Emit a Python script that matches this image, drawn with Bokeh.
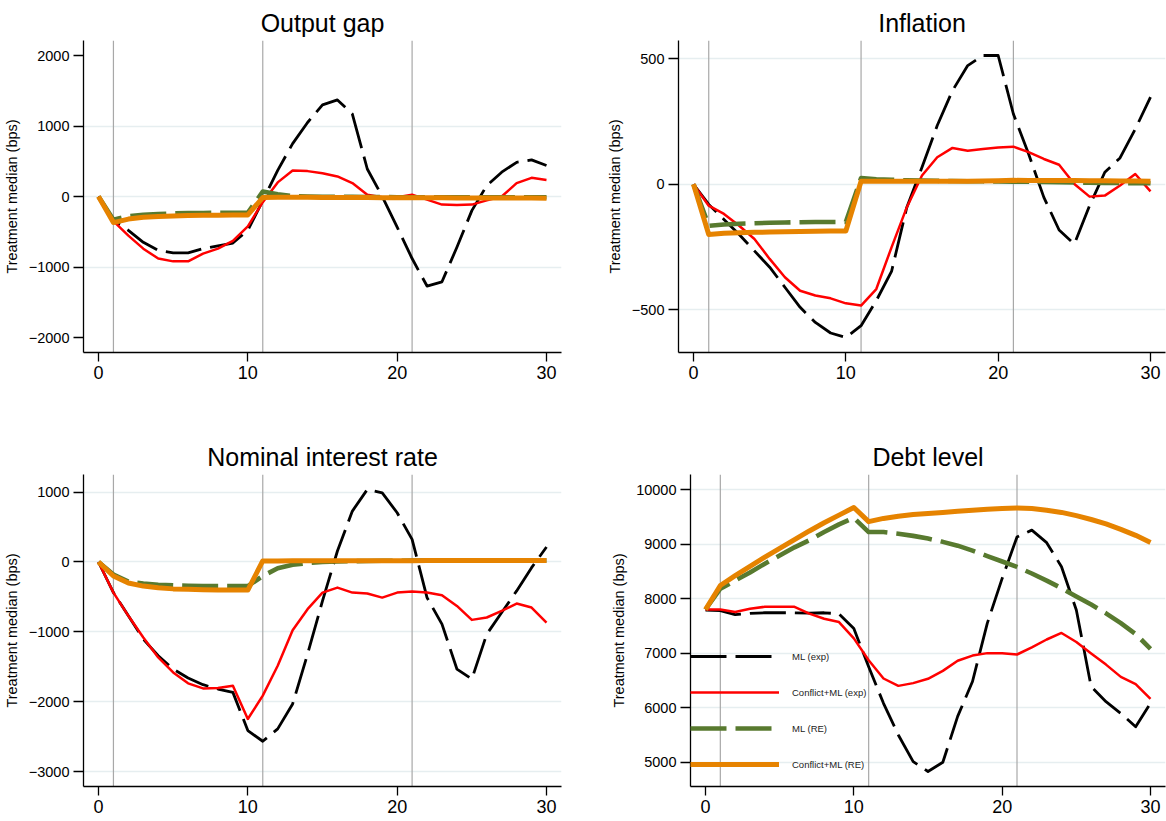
from bokeh.plotting import figure
from bokeh.models import Range1d, FixedTicker, Span, Legend, LegendItem
from bokeh.layouts import column, row
from bokeh.embed import file_html
from bokeh.resources import INLINE

# ---------------- data ----------------
t = list(range(31))
vlines = [1, 11, 21]
xticks = [0, 10, 20, 30]
series_names = ["ML (exp)", "Conflict+ML (exp)", "ML (RE)", "Conflict+ML (RE)"]

og_ml_exp = [0, -340, -480, -650, -765, -800, -800, -740, -700, -660, -480, -60, 370, 750, 1050,
             1300, 1370, 1170, 390, 0, -435, -880, -1270, -1210, -720, -200, 155, 345, 485, 520, 440]
og_conf_exp = [0, -350, -555, -740, -880, -920, -920, -810, -740, -630, -425, -80, 200, 370, 360,
               330, 285, 190, 25, -10, -10, 25, -45, -115, -120, -115, -55, 0, 190, 265, 235]
og_ml_re = [0, -330, -280, -258, -248, -240, -236, -234, -232, -230, -230, 70, 30, 5, 0,
            -5, -5, -5, -8, -8, -10, -10, -10, -10, -10, -10, -10, -10, -10, -10, -10]
og_conf_re = [0, -370, -320, -295, -283, -275, -270, -267, -265, -263, -262, -15, -12, -12, -12,
              -13, -14, -15, -15, -16, -17, -18, -19, -19, -20, -21, -21, -22, -22, -23, -24]

inf_ml_exp = [0, -80, -140, -200, -265, -330, -410, -490, -550, -592, -610, -563, -463, -347, -92,
              68, 234, 373, 473, 513, 513, 280, 121, -52, -182, -238, -85, 48, 105, 220, 347]
inf_conf_exp = [0, -85, -118, -165, -218, -297, -370, -424, -443, -454, -474, -483, -417, -251, -92,
                35, 108, 145, 134, 141, 147, 150, 128, 101, 78, 1, -49, -45, -5, 41, -28]
inf_ml_re = [0, -165, -160, -157, -155, -153, -152, -151, -150, -150, -150, 25, 20, 18, 16,
             15, 14, 13, 12, 12, 11, 10, 10, 9, 8, 7, 6, 5, 5, 4, 4]
inf_conf_re = [0, -200, -195, -193, -191, -190, -189, -188, -187, -186, -186, 12, 12, 12, 12,
               12, 12, 12, 12, 13, 14, 16, 15, 15, 15, 15, 14, 14, 13, 13, 12]

ir_ml_exp = [0, -438, -771, -1105, -1343, -1533, -1662, -1757, -1819, -1867, -2414, -2567, -2390, -2033, -1319,
             -557, 157, 729, 1038, 990, 705, 324, -510, -890, -1533, -1676, -1033, -724, -414, -81, 214]
ir_conf_exp = [0, -438, -771, -1081, -1367, -1581, -1738, -1810, -1805, -1771, -2248, -1914, -1486, -976, -676,
               -438, -367, -438, -452, -510, -438, -424, -438, -476, -629, -829, -795, -700, -595, -652, -867]
ir_ml_re = [0, -180, -280, -310, -325, -335, -340, -343, -345, -345, -345, -200, -90, -40, -15,
            0, 8, 12, 15, 17, 18, 20, 20, 21, 21, 22, 22, 22, 22, 22, 22]
ir_conf_re = [0, -200, -300, -345, -370, -385, -392, -397, -400, -402, -402, 15, 15, 16, 16,
              17, 17, 18, 18, 18, 19, 19, 20, 20, 20, 21, 21, 21, 21, 22, 22]

debt_ml_exp = [7790, 7780, 7705, 7730, 7740, 7740, 7740, 7735, 7740, 7720, 7450, 6750, 6080, 5500, 5010,
               4830, 5000, 5840, 6480, 7550, 8370, 9130, 9255, 9025, 8585, 7790, 6385, 6110, 5895, 5650, 6080]
debt_conf_exp = [7800, 7800, 7755, 7815, 7850, 7850, 7850, 7725, 7630, 7570, 7270, 6870, 6535, 6400, 6450,
                 6530, 6675, 6860, 6955, 7000, 7000, 6975, 7105, 7250, 7370, 7205, 6995, 6790, 6565, 6430, 6160]
debt_ml_re = [7800, 8180, 8330, 8480, 8640, 8790, 8940, 9070, 9220, 9360, 9480, 9220, 9220, 9190, 9150,
              9100, 9040, 8970, 8880, 8780, 8680, 8580, 8460, 8330, 8190, 8040, 7890, 7730, 7550, 7350, 7080]
debt_conf_re = [7800, 8240, 8420, 8590, 8760, 8920, 9080, 9240, 9390, 9530, 9670, 9410, 9470, 9510, 9540,
                9560, 9580, 9600, 9620, 9640, 9650, 9660, 9650, 9620, 9580, 9520, 9450, 9370, 9270, 9160, 9030]

og_yticks = [-2000, -1000, 0, 1000, 2000]
og_grid = [-1000, 0, 1000]
inf_yticks = [-500, 0, 500]
ir_yticks = [-3000, -2000, -1000, 0, 1000]
debt_yticks = [5000, 6000, 7000, 8000, 9000, 10000]

# ---------------- styling ----------------
FONT = "Liberation Sans"
styles = [
    dict(color="#000000", width=2.8, dash="36 9"),
    dict(color="#FF0000", width=2.5, dash="solid"),
    dict(color="#587A2F", width=4.6, dash="36 9"),
    dict(color="#E68300", width=5.0, dash="solid"),
]


def make_panel(title, series, yticks, gridticks, frame_w, bl, br, bt, bb, legend=False):
    fh = 312
    pad = 15
    ylo = min(min(min(s) for s in series), min(yticks))
    yhi = max(max(max(s) for s in series), max(yticks))
    upp = (yhi - ylo) / (fh - 2 * pad)
    xlo, xhi = min(t), max(t)
    xupp = (xhi - xlo) / (frame_w - 2 * pad)
    p = figure(frame_width=frame_w, frame_height=fh,
               min_border_left=bl, min_border_right=br, min_border_top=bt, min_border_bottom=bb,
               x_range=Range1d(xlo - pad * xupp, xhi + pad * xupp),
               y_range=Range1d(ylo - pad * upp, yhi + pad * upp),
               output_backend="svg", toolbar_location=None, title=title)
    p.background_fill_color = "white"
    p.border_fill_color = "white"
    p.outline_line_color = None
    p.title.text_font = FONT
    p.title.text_font_size = "25px"
    p.title.text_font_style = "normal"
    p.title.text_color = "black"
    p.title.align = "center"
    p.title.standoff = 7

    p.xgrid.visible = False
    p.ygrid.ticker = FixedTicker(ticks=gridticks)
    p.ygrid.grid_line_color = "#E6EEF0"
    p.ygrid.grid_line_width = 1.6

    p.xaxis.ticker = FixedTicker(ticks=xticks)
    p.yaxis.ticker = FixedTicker(ticks=yticks)
    p.yaxis.major_label_overrides = {v: str(v).replace("-", "\u2212") for v in yticks}
    for ax in (p.xaxis[0], p.yaxis[0]):
        ax.axis_line_color = "black"
        ax.axis_line_width = 1.3
        ax.major_tick_line_color = "black"
        ax.major_tick_line_width = 1.3
        ax.major_tick_in = 0
        ax.minor_tick_line_color = None
        ax.major_label_text_font = FONT
        ax.major_label_text_color = "black"
    p.xaxis.major_tick_out = 9
    p.xaxis.major_label_text_font_size = "18px"
    p.xaxis.major_label_standoff = 4
    p.yaxis.major_tick_out = 10
    p.yaxis.major_label_text_font_size = "14.5px"
    p.yaxis.major_label_standoff = 4
    p.yaxis.axis_label = "Treatment median (bps)"
    p.yaxis.axis_label_text_font = FONT
    p.yaxis.axis_label_text_font_size = "14.5px"
    p.yaxis.axis_label_text_font_style = "normal"
    p.yaxis.axis_label_text_color = "black"
    p.yaxis.axis_label_standoff = 6

    for v in vlines:
        p.add_layout(Span(location=v, dimension="height", line_color="#A8A8A8",
                          line_width=1.2, level="underlay"))

    rends = []
    for s, st in zip(series, styles):
        r = p.line(t, s, line_color=st["color"], line_width=st["width"], line_dash=st["dash"],
                   line_join="round", line_cap="butt")
        rends.append(r)

    if legend:
        items = [LegendItem(label=n, renderers=[r]) for n, r in zip(series_names, rends)]
        leg = Legend(items=items, location=(0, 12), glyph_width=89, glyph_height=20,
                     label_height=20, label_standoff=13, spacing=16, padding=0, margin=0,
                     background_fill_alpha=0, border_line_alpha=0,
                     label_text_font=FONT, label_text_font_size="9.5px",
                     label_text_color="#222222")
        p.add_layout(leg)
    return p


p1 = make_panel("Output gap", [og_ml_exp, og_conf_exp, og_ml_re, og_conf_re],
                og_yticks, og_grid, 478, 83, 22, 40, 58)
p2 = make_panel("Inflation", [inf_ml_exp, inf_conf_exp, inf_ml_re, inf_conf_re],
                inf_yticks, inf_yticks, 487, 95, 1, 40, 58)
p3 = make_panel("Nominal interest rate", [ir_ml_exp, ir_conf_exp, ir_ml_re, ir_conf_re],
                ir_yticks, ir_yticks, 478, 83, 22, 64, 35)
p4 = make_panel("Debt level", [debt_ml_exp, debt_conf_exp, debt_ml_re, debt_conf_re],
                debt_yticks, debt_yticks, 475, 107, 1, 64, 35, legend=True)

layout = column(row(p1, p2), row(p3, p4))
open("out.html", "w").write(file_html(layout, INLINE))
